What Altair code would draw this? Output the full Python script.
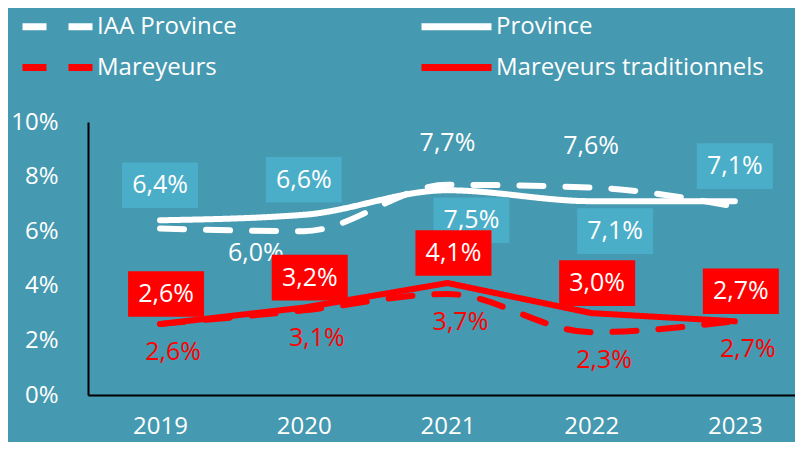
import altair as alt
import pandas as pd

years = ["2019", "2020", "2021", "2022", "2023"]
iaa_province = [6.1, 6.0, 7.7, 7.6, 6.9]
province = [6.4, 6.6, 7.5, 7.1, 7.1]
mareyeurs = [2.6, 3.1, 3.7, 2.3, 2.7]
mareyeurs_trad = [2.6, 3.2, 4.1, 3.0, 2.7]

series_names = ["IAA Province", "Province", "Mareyeurs", "Mareyeurs traditionnels"]
series_values = [iaa_province, province, mareyeurs, mareyeurs_trad]

rows = []
for name, vals in zip(series_names, series_values):
    for y, v in zip(years, vals):
        rows.append({"year": y, "series": name, "value": v,
                     "label": f"{v:.1f}".replace(".", ",") + "%"})
df = pd.DataFrame(rows)

BG = "#4599B0"
BOX = "#4BAEC8"
RED = "#FF0000"
FONT = "Open Sans"

x_enc = alt.X("year:N", scale=alt.Scale(type="point", padding=0.46, align=0.545),
              axis=alt.Axis(title=None, labelFontSize=24, labelColor="white", labelFont=FONT,
                            labelPadding=19, tickSize=0, domainColor="black", domainWidth=2,
                            labelAngle=0, grid=False))
y_enc = alt.Y("value:Q", scale=alt.Scale(domain=[0, 10], nice=False),
              axis=alt.Axis(title=None, values=[0, 2, 4, 6, 8, 10], labelExpr="datum.value + '%'",
                            labelFontSize=24, labelColor="white", labelFont=FONT, labelPadding=30,
                            tickSize=0, domainColor="black", domainWidth=2, grid=False))

color_scale = alt.Scale(domain=series_names, range=["white", "white", RED, RED])
dash_scale = alt.Scale(domain=series_names, range=[[24, 22], [1, 0], [24, 22], [1, 0]])

legend = alt.Legend(title=None, orient="none", legendX=-48, legendY=-113, columns=2,
                    direction="horizontal",
                    symbolType="M-2.5,0H2.5", symbolSize=784, symbolStrokeWidth=7,
                    labelFontSize=24, labelColor="white", labelFont=FONT, labelOffset=22,
                    labelLimit=400, columnPadding=170, rowPadding=9, symbolOffset=0)

base = alt.Chart(df)


def line_layer(name, interp):
    return base.transform_filter(alt.datum.series == name).mark_line(
        strokeWidth=6, strokeCap="round", interpolate=interp
    ).encode(
        x=x_enc, y=y_enc,
        color=alt.Color("series:N", scale=color_scale, legend=legend),
        strokeDash=alt.StrokeDash("series:N", scale=dash_scale, legend=legend),
    )


lines = [
    line_layer("Mareyeurs", "monotone"),
    line_layer("Mareyeurs traditionnels", "linear"),
    line_layer("IAA Province", "monotone"),
    line_layer("Province", "monotone"),
]

BOX_PATH = "M-1,-0.6H1V0.6H-1Z"

province_above = ["2019", "2020", "2023"]
province_below = ["2021", "2022"]
iaa_below = ["2020"]


def text_layer(name, years_sel, dy, color, dx=0):
    return base.transform_filter(alt.datum.series == name).transform_filter(
        alt.FieldOneOfPredicate(field="year", oneOf=years_sel)
    ).mark_text(fontSize=25, font=FONT, color=color, baseline="middle", align="center",
                yOffset=dy, xOffset=dx).encode(
        x=x_enc, y=y_enc, text="label:N")


def box_layer(name, years_sel, dy, color, dx=0):
    return base.transform_filter(alt.datum.series == name).transform_filter(
        alt.FieldOneOfPredicate(field="year", oneOf=years_sel)
    ).mark_point(shape=BOX_PATH, size=76 * 76, filled=True, opacity=1,
                 color=color, strokeWidth=0, yOffset=dy, xOffset=dx).encode(x=x_enc, y=y_enc)


iaa_above = [y for y in years if y not in iaa_below]
mar_all = years

layers = lines + [
    text_layer("IAA Province", iaa_above, -42, "white"),
    text_layer("IAA Province", iaa_below, 22, "white", dx=-48),
    box_layer("Province", province_above, -35, BOX),
    text_layer("Province", province_above, -35, "white"),
    box_layer("Province", province_below, 30, BOX, dx=24),
    text_layer("Province", province_below, 30, "white", dx=24),
    box_layer("Mareyeurs traditionnels", mar_all, -30, RED, dx=6),
    text_layer("Mareyeurs traditionnels", mar_all, -30, "white", dx=6),
    text_layer("Mareyeurs", mar_all, 28, RED, dx=13),
]

chart = alt.layer(*layers).properties(
    width=707, height=273, background=BG,
    autosize=alt.AutoSizeParams(type="none"),
    padding={"left": 80, "top": 114, "right": 0, "bottom": 47},
).configure_view(stroke=None)

chart.save("out.html", embed_options={"renderer": "svg", "actions": False})
